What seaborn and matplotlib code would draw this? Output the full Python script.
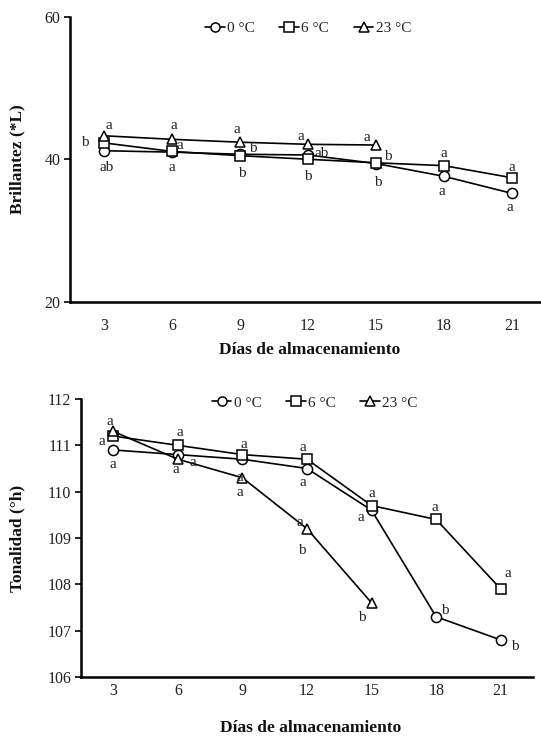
import matplotlib
matplotlib.use("Agg")
import matplotlib.pyplot as plt
import seaborn as sns
import pandas as pd

# ---------------- data ----------------
days = [3, 6, 9, 12, 15, 18, 21]
temps = ["0 °C", "6 °C", "23 °C"]

L_0 = [41.2, 41.0, 40.7, 40.6, 39.4, 37.6, 35.2]
L_6 = [42.3, 41.1, 40.5, 40.0, 39.5, 39.1, 37.4]
L_23 = [43.3, 42.8, 42.4, 42.1, 42.0]

H_0 = [110.9, 110.8, 110.7, 110.5, 109.6, 107.3, 106.8]
H_6 = [111.2, 111.0, 110.8, 110.7, 109.7, 109.4, 107.9]
H_23 = [111.3, 110.7, 110.3, 109.2, 107.6]

letters_L_0 = ["ab", "a", "b", "b", "b", "a", "a"]
letters_L_6 = ["b", "a", "b", "ab", "b", "a", "a"]
letters_L_23 = ["a", "a", "a", "a", "a"]

letters_H_0 = ["a", "a", "a", "a", "a", "b", "b"]
letters_H_6 = ["a", "a", "a", "a", "a", "a", "a"]
letters_H_23 = ["a", "a", "a", "b", "b"]
extra_H_23 = [(12, 109.2, "a")]

x_label = "Días de almacenamiento"
y_label_top = "Brillantez (*L)"
y_label_bot = "Tonalidad (°h)"

# ---------------- style ----------------
sns.set_theme(style="white")
plt.rcParams["font.family"] = ["Liberation Serif", "DejaVu Serif"]
plt.rcParams["axes.linewidth"] = 1.8

W, H = 541, 736
fig = plt.figure(figsize=(W / 100, H / 100), dpi=100)

def frame(series_list):
    rows = []
    for t, vals in zip(temps, series_list):
        for d, v in zip(days, vals):
            rows.append({"day": d, "val": v, "temp": t})
    return pd.DataFrame(rows)

markers = {"0 °C": "o", "6 °C": "s", "23 °C": "^"}
pal = {t: "black" for t in temps}

def draw(ax, df):
    sns.lineplot(data=df, x="day", y="val", hue="temp", style="temp",
                 markers=markers, dashes=False, palette=pal, ax=ax,
                 linewidth=1.2, markerfacecolor="white",
                 markeredgecolor="black", markeredgewidth=1.1, markersize=7.3,
                 hue_order=temps, style_order=temps, sort=False)
    for ln in ax.lines:
        ln.set_markerfacecolor("white")
        ln.set_markeredgecolor("black")

def annotate(ax, xs, ys, letters, offs, fs=11):
    for x, y, s, (dx, dy) in zip(xs, ys, letters, offs):
        ax.annotate(s, (x, y), xytext=(dx, -dy), textcoords="offset pixels",
                    ha="center", va="center", fontsize=fs, color="#222222")

def finish(ax, ylim, yticks, xpad, legend_xy, xlab_xy, ylab_xy, ylab):
    ax.set_xlim(1.5, 22.5)
    ax.set_ylim(*ylim)
    ax.set_yticks(yticks)
    ax.set_xticks(days)
    ax.set_xticklabels([str(d) for d in days])
    for s in ["top", "right"]:
        ax.spines[s].set_visible(False)
    for s in ["left", "bottom"]:
        ax.spines[s].set_color("black")
    ax.tick_params(axis="x", length=0, pad=xpad, labelsize=11.5, colors="#222222")
    ax.tick_params(axis="y", length=4, width=1.2, direction="out", left=True,
                   pad=3, labelsize=11.5, colors="#222222")
    ax.tick_params(axis="y", color="black")
    ax.set_xlabel(x_label, fontsize=12.5, fontweight="bold", color="#111111")
    ax.set_ylabel(ylab, fontsize=12.5, fontweight="bold", color="#111111")
    ax.xaxis.set_label_coords(*xlab_xy)
    ax.xaxis.label.set_va("center")
    ax.yaxis.set_label_coords(*ylab_xy)
    ax.yaxis.label.set_va("center")
    sns.move_legend(ax, "center", bbox_to_anchor=legend_xy, ncol=3,
                    frameon=False, title=None, fontsize=11,
                    handlelength=1.3, handletextpad=0.15, columnspacing=1.6,
                    markerscale=0.9)
    leg = ax.get_legend()
    for h in leg.legend_handles:
        h.set_markerfacecolor("white")
        h.set_markeredgecolor("black")
        h.set_linewidth(1.2)
    for t in leg.get_texts():
        t.set_color("#222222")

# ---------------- top chart ----------------
ax1 = fig.add_axes([70 / W, 1 - 301.5 / H, 476 / W, 284.5 / H])
draw(ax1, frame([L_0, L_6, L_23]))
annotate(ax1, days, L_23, letters_L_23,
         [(5, -10), (2, -14), (-3, -13), (-7, -8), (-9, -8)])
annotate(ax1, days, L_6, letters_L_6,
         [(-19, 0), (8, -6), (13, -7), (14, -6), (12, -6), (0, -12), (0, -10)])
annotate(ax1, days, L_0, letters_L_0,
         [(3, 17), (0, 15), (2, 19), (0, 22), (2, 19), (-2, 15), (-2, 14)])
finish(ax1, (20, 60), [20, 40, 60], 12, (0.5, 0.961),
       (0.504, -0.170), (-0.111, 0.5), y_label_top)

# ---------------- bottom chart ----------------
ax2 = fig.add_axes([81 / W, 1 - 677 / H, 452 / W, 278 / H])
draw(ax2, frame([H_0, H_6, H_23]))
annotate(ax2, days, H_23, letters_H_23,
         [(-3, -10), (-2, 10), (-3, 15), (-5, 22), (-10, 15)])
annotate(ax2, days, H_6, letters_H_6,
         [(-11, 5), (2, -13), (1, -10), (-4, -12), (0, -12), (-1, -12), (7, -15)])
annotate(ax2, days, H_0, letters_H_0,
         [(0, 15), (15, 8), (-3, 18), (-4, 14), (-11, 7), (9, -6), (14, 7)])
for d, v, s in extra_H_23:
    ax2.annotate(s, (d, v), xytext=(-7, 6), textcoords="offset pixels",
                 ha="center", va="center", fontsize=11, color="#222222")
finish(ax2, (106, 112), [106, 107, 108, 109, 110, 111, 112], 4,
       (0.517, 0.986), (0.507, -0.183), (-0.1416, 0.5), y_label_bot)

fig.savefig("out.png", dpi=100)
